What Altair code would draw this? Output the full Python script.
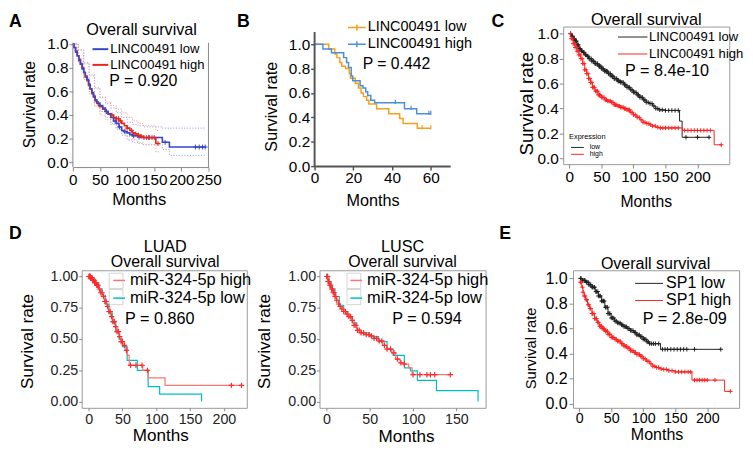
import altair as alt
import pandas as pd

FONT = "Liberation Sans"

# ---------------- Panel A (GEPIA) ----------------
A_groups = ["LINC00491 low", "LINC00491 high"]
A_low_t = [0,2,5,8,11,14,17,20,23,26,29,32,35,38,41,44,47,50,55,60,65,70,75,80,85,90,95,100,105,110,120,130,165,178,245]
A_low_s = [1.0,0.97,0.93,0.9,0.86,0.83,0.79,0.76,0.73,0.70,0.66,0.62,0.59,0.56,0.53,0.51,0.50,0.48,0.46,0.43,0.41,0.38,0.35,0.33,0.30,0.27,0.26,0.25,0.235,0.225,0.215,0.21,0.17,0.13,0.13]
A_high_t = [0,2,5,8,11,14,17,20,23,26,29,32,35,38,41,44,47,50,55,60,65,70,75,80,85,90,95,100,105,110,115,120,125,130,153,160]
A_high_s = [1.0,0.97,0.94,0.90,0.87,0.83,0.80,0.76,0.72,0.69,0.65,0.62,0.58,0.55,0.52,0.50,0.48,0.47,0.45,0.43,0.41,0.40,0.38,0.37,0.35,0.33,0.31,0.29,0.27,0.25,0.24,0.23,0.22,0.21,0.16,0.16]
A_ci_low_t = [0,10,20,30,40,50,60,70,80,90,100,110,120,130,165,178,245]
A_low_up = [1.0,0.95,0.84,0.74,0.63,0.55,0.50,0.46,0.42,0.38,0.34,0.32,0.31,0.30,0.29,0.29,0.29]
A_low_lo = [1.0,0.85,0.72,0.60,0.50,0.43,0.38,0.33,0.28,0.23,0.19,0.17,0.16,0.15,0.11,0.06,0.06]
A_ci_high_t = [0,10,20,30,40,50,60,70,80,90,100,110,120,130,153,160]
A_high_up = [1.0,0.95,0.84,0.73,0.62,0.55,0.51,0.48,0.45,0.42,0.38,0.35,0.33,0.31,0.27,0.27]
A_high_lo = [1.0,0.84,0.70,0.58,0.47,0.40,0.36,0.32,0.29,0.26,0.22,0.19,0.17,0.15,0.09,0.09]
A_low_cens = [62,78,86,96,112,122,140,170,226,233,239,244]
A_high_cens = [72,80,84,88,100,108,116,121,126,131,136,141,146,150,157]

# ---------------- Panel B (GraphPad) ----------------
B_groups = ["LINC00491 low", "LINC00491 high"]
B_low_t = [0,7.3,10.4,11.5,13,14,16,17.9,18.5,21,22.6,24,25.2,26.9,28,32,38.3,43.9,45.7,53,60]
B_low_s = [1.0,0.96,0.92,0.89,0.85,0.82,0.80,0.76,0.72,0.68,0.64,0.60,0.57,0.54,0.51,0.47,0.43,0.39,0.35,0.31,0.31]
B_high_t = [0,4.3,8.7,15,16.5,17.5,18.9,19.7,23.5,25,26.4,27.4,29,31,46.4,52.7,60]
B_high_s = [1.0,0.96,0.93,0.89,0.85,0.81,0.74,0.70,0.66,0.64,0.61,0.58,0.54,0.52,0.47,0.43,0.43]
B_low_cens = [55.5, 60]
B_high_cens = [41.7, 49.8, 59, 60]

# ---------------- Panel C (KM plotter) ----------------
C_groups = ["LINC00491 low", "LINC00491 high"]
C_low_t = [0,3,6,9,12,15,18,21,24,27,30,35,40,45,50,55,60,65,70,75,80,85,90,95,100,105,110,115,120,125,130,135,140,150,172,176,219]
C_low_s = [1.0,0.98,0.96,0.94,0.91,0.88,0.86,0.85,0.83,0.82,0.80,0.78,0.76,0.74,0.72,0.70,0.68,0.66,0.64,0.62,0.61,0.59,0.57,0.55,0.53,0.51,0.49,0.47,0.45,0.44,0.42,0.40,0.39,0.385,0.30,0.17,0.17]
C_high_t = [0,3,6,9,12,15,18,21,24,27,30,33,36,40,45,50,55,60,65,70,75,80,85,90,95,100,105,110,115,120,125,130,135,140,177,226,238]
C_high_s = [1.0,0.96,0.92,0.89,0.86,0.83,0.80,0.76,0.71,0.68,0.64,0.61,0.57,0.54,0.51,0.49,0.47,0.46,0.45,0.43,0.42,0.41,0.40,0.39,0.37,0.35,0.33,0.31,0.29,0.28,0.27,0.26,0.25,0.245,0.225,0.11,0.11]
C_low_cens = [2,4,5,7,8,10,11,13,14,16,17,19,20,22,23,25,26,28,29,31,32,34,35,37,38,40,41,43,44,46,47,49,50,52,53,55,56,58,59,61,62,64,65,67,68,70,71,73,74,76,77,79,80,82,84,86,88,90,92,94,96,98,100,102,104,106,108,110,112,114,116,118,120,123,126,129,132,135,138,141,145,150,155,160,165,170,182,200,218]
C_high_cens = [2,3,5,6,8,9,11,12,14,15,17,18,20,21,23,24,26,27,29,30,32,33,35,36,38,39,41,42,44,45,47,48,50,52,54,56,58,60,62,64,66,68,70,72,74,76,78,80,82,84,86,88,90,92,94,96,98,100,103,106,109,112,115,118,121,124,127,130,134,138,142,146,150,155,160,165,170,180,185,190,195,200,205,210,215,220,237]

# ---------------- Panel D (ggplot, LUAD / LUSC) ----------------
D_groups = ["miR-324-5p high", "miR-324-5p low"]
LUAD_high_t = [0,3,6,9,12,15,18,21,24,27,30,33,36,39,42,45,48,51,54,57,60,80,88,113,227]
LUAD_high_s = [1.0,0.99,0.97,0.95,0.93,0.90,0.87,0.84,0.80,0.76,0.72,0.68,0.64,0.60,0.56,0.52,0.48,0.45,0.41,0.37,0.29,0.25,0.19,0.13,0.13]
LUAD_low_t = [0,5,10,15,20,25,30,35,40,45,50,57,72,88,105,167]
LUAD_low_s = [1.0,0.98,0.95,0.90,0.85,0.78,0.71,0.63,0.56,0.50,0.44,0.33,0.25,0.12,0.06,0.0]
LUAD_high_cens = [0.5,1,1.5,2,2.5,3,4,5,6,7,8,9,10,11,12,13,14,16,18,20,22,24,26,28,30,32,34,36,38,40,42,44,46,48,50,53,56,62,70,79,87,211,226]
LUSC_high_t = [0,2,4,6,8,10,12,14,16,18,20,23,26,29,32,35,40,45,50,55,60,65,70,75,80,85,90,95,99,143]
LUSC_high_s = [1.0,0.96,0.93,0.90,0.87,0.84,0.81,0.78,0.76,0.74,0.72,0.70,0.68,0.65,0.61,0.57,0.55,0.535,0.525,0.505,0.485,0.45,0.42,0.39,0.34,0.31,0.30,0.27,0.215,0.215]
LUSC_low_t = [0,3,6,10,15,20,25,30,35,40,50,60,70,77,90,97,105,127,175]
LUSC_low_s = [1.0,0.95,0.90,0.84,0.77,0.72,0.68,0.63,0.57,0.55,0.52,0.48,0.42,0.37,0.27,0.245,0.17,0.087,0.0]
LUSC_high_cens = [0.5,1,1.5,2,2.5,3,4,5,6,7,8,9,10,11,12,14,16,18,20,22,24,26,28,30,32,34,36,38,40,43,46,49,52,55,58,61,64,67,70,74,78,82,86,90,100,108,116,120,125,143]

# ---------------- Panel E (KM plotter, SP1) ----------------
E_groups = ["SP1 low", "SP1 high"]
E_low_t = [0,5,10,15,20,25,30,35,40,45,50,55,60,65,70,75,80,85,90,95,100,105,110,127,222]
E_low_s = [1.0,0.985,0.97,0.95,0.93,0.895,0.86,0.82,0.77,0.72,0.685,0.66,0.645,0.63,0.615,0.60,0.585,0.57,0.55,0.535,0.515,0.495,0.48,0.435,0.435]
E_high_t = [0,2,4,6,8,10,13,16,20,24,28,32,36,40,45,50,55,60,65,70,75,80,85,90,95,100,105,110,115,120,125,130,140,150,176,227,237]
E_high_s = [1.0,0.97,0.93,0.89,0.86,0.83,0.79,0.76,0.72,0.68,0.65,0.62,0.60,0.58,0.555,0.53,0.515,0.50,0.48,0.46,0.445,0.425,0.41,0.395,0.38,0.36,0.34,0.32,0.30,0.29,0.28,0.275,0.265,0.255,0.19,0.10,0.10]
E_low_cens = [2,3,5,6,8,9,11,12,14,15,17,18,20,21,23,24,26,27,29,30,32,33,35,36,38,39,41,42,44,45,47,48,50,52,54,56,58,60,62,64,66,68,70,72,74,76,78,80,82,84,86,88,90,92,94,96,98,100,102,104,106,108,110,113,116,119,124,130,134,138,143,148,153,158,163,168,180,221]
E_high_cens = [2,3,5,6,8,9,11,12,14,15,17,18,20,21,23,24,26,27,29,30,32,33,35,36,38,39,41,42,44,45,47,48,50,52,54,56,58,60,62,64,66,68,70,72,74,76,78,80,82,84,86,88,90,92,94,96,98,100,103,106,109,112,115,118,121,124,128,132,136,140,145,150,155,160,165,170,174,180,184,188,192,196,200,212,236]

ONE = pd.DataFrame({"k": [0]})
PLUS = "M-1,0L1,0M0,-1L0,1"
VTICK = "M0,-1L0,0.4"


def step_at(ts, ss, x):
    y = ss[0]
    for t, s in zip(ts, ss):
        if t <= x:
            y = s
        else:
            break
    return y


def curves_df(items):
    return pd.concat([pd.DataFrame({"t": ts, "s": ss, "g": g, "col": c}) for g, ts, ss, c in items],
                     ignore_index=True)


def censor_df(items):
    rows = []
    for g, ts, ss, cts, col in items:
        for c in cts:
            rows.append({"t": c, "s": step_at(ts, ss, c), "g": g, "col": col})
    return pd.DataFrame(rows)


def text_layer(txt, x, y, size, align="left", baseline="middle", weight="normal", color="black"):
    return alt.Chart(ONE).mark_text(text=txt, font=FONT, fontSize=size, align=align,
                                    baseline=baseline, fontWeight=weight, color=color).encode(
        x=alt.value(x), y=alt.value(y))


def key_boxes(x, ys, h):
    return [alt.Chart(ONE).mark_rect(fill="white", stroke="#d4d4d4", strokeWidth=1).encode(
        x=alt.value(x), x2=alt.value(x + 14), y=alt.value(y0), y2=alt.value(y0 + h)) for y0 in ys]


def km_panel(p):
    st = p["axis"]
    xs = alt.Scale(domain=p["xdom"], nice=False, zero=False)
    ys = alt.Scale(domain=p["ydom"], nice=False, zero=False)
    xax = alt.Axis(values=p["xvals"], format="d", grid=False, title="Months",
                   labelFont=FONT, labelFontSize=st["lx"], labelColor=st.get("lc", "black"),
                   labelPadding=st["xpad"], tickSize=st["tick"], tickColor=st["tc"],
                   tickWidth=st.get("tw", 1), domain=st["xdomline"], domainColor=st.get("dc", "#888"),
                   domainWidth=st.get("dw", 1), labelFlush=False, labelOverlap=False,
                   titleFont=FONT, titleFontSize=st["tx"], titleFontWeight="normal", titleColor="black",
                   titleX=st["txx"], titleY=st["txy"], titleAlign="center", titleBaseline="alphabetic")
    yax = alt.Axis(values=p["yvals"], format=p["yfmt"], grid=False, title="Survival rate",
                   labelFont=FONT, labelFontSize=st["ly"], labelColor=st.get("lc", "black"),
                   labelPadding=st["ypad"], tickSize=st["tick"], tickColor=st["tc"],
                   tickWidth=st.get("tw", 1), domain=False, labelFlush=False, labelOverlap=False,
                   titleFont=FONT, titleFontSize=st["ty"], titleFontWeight="normal", titleColor="black",
                   titleX=st["tyx"], titleY=st["tyy"], titleAngle=270, titleAlign="center",
                   titleBaseline="middle")
    X = alt.X("t:Q", scale=xs, axis=xax)
    Y = alt.Y("s:Q", scale=ys, axis=yax)
    layers = []
    for extra in p.get("under", []):
        layers.append(extra)
    if p.get("ci") is not None:
        layers.append(alt.Chart(p["ci"]).mark_line(interpolate="step-after", strokeWidth=1,
                                                   strokeDash=[1.2, 1.6]).encode(
            x=X, y=Y, color=alt.Color("col:N", scale=None), detail="g:N"))
    lg = p["legend"]
    legend = alt.Legend(orient="none", legendX=lg["x"], legendY=lg["y"], title=None,
                        symbolType=lg.get("type", "stroke"), symbolSize=lg["size"],
                        symbolStrokeWidth=lg["sw"], labelFont=FONT, labelFontSize=lg["fs"],
                        labelColor="black", labelLimit=0, rowPadding=lg["rp"], padding=0,
                        labelOffset=lg.get("lo", 2))
    layers.append(alt.Chart(p["curves"]).mark_line(interpolate="step-after",
                                                   strokeWidth=p["lw"]).encode(
        x=X, y=Y, color=alt.Color("g:N", scale=alt.Scale(domain=p["groups"], range=p["colors"]),
                                  legend=legend)))
    layers.append(alt.Chart(p["cens"]).mark_point(shape=p["cshape"], filled=False, size=p["csize"],
                                                  strokeWidth=p["cw"], opacity=1).encode(
        x=X, y=Y, color=alt.Color("col:N", scale=None)))
    if p.get("rules") is not None:
        layers.append(alt.Chart(p["rules"]).mark_rule().encode(
            x=X, y=Y, x2="t2:Q", y2="s2:Q", color=alt.Color("col:N", scale=None),
            strokeWidth=alt.StrokeWidth("w:Q", scale=None)))
    for t in p["texts"]:
        layers.append(text_layer(**t))
    for extra in p.get("extra", []):
        layers.append(extra)
    props = dict(width=p["w"], height=p["h"])
    if p.get("frame"):
        props["view"] = alt.ViewBackground(stroke=p["frame"], strokeWidth=1)
    return alt.layer(*layers).properties(**props)


def spacer(w):
    return alt.Chart(ONE).mark_point(opacity=0).encode(
        x=alt.value(0), y=alt.value(0)).properties(width=w, height=1)


# ---------- build panels ----------
A_blue, A_red = "#3646c8", "#e8281e"
panel_A = km_panel(dict(
    groups=A_groups, colors=[A_blue, A_red],
    curves=curves_df([(A_groups[1], A_high_t, A_high_s, A_red), (A_groups[0], A_low_t, A_low_s, A_blue)]),
    cens=censor_df([(A_groups[0], A_low_t, A_low_s, A_low_cens, A_blue),
                    (A_groups[1], A_high_t, A_high_s, A_high_cens, A_red)]),
    ci=curves_df([("lu", A_ci_low_t, A_low_up, "#9aa4e8"), ("ll", A_ci_low_t, A_low_lo, "#9aa4e8"),
                  ("hu", A_ci_high_t, A_high_up, "#f3a592"), ("hl", A_ci_high_t, A_high_lo, "#f3a592")]),
    xdom=[0, 250], ydom=[-0.039, 1.147], w=138, h=143,
    xvals=[0, 50, 100, 150, 200, 250], yvals=[0, 0.2, 0.4, 0.6, 0.8, 1.0], yfmt=".1f",
    axis=dict(lx=15.5, ly=15.5, xpad=2, ypad=1, tick=4, tc="#888", xdomline=True, dc="#888",
              tx=16.8, txx=67, txy=38, ty=16, tyx=-44.5, tyy=79),
    legend=dict(x=19, y=14, size=256, sw=2, fs=13.3, rp=-1, lo=1),
    lw=1.6, cshape=PLUS, csize=25, cw=1,
    rules=pd.DataFrame({"t": [0, 250], "s": [-0.039, -0.039], "t2": [0, 250], "s2": [1.01, 1.01],
                        "col": ["#888", "#888"], "w": [1, 1]}),
    texts=[dict(txt="Overall survival", x=70, y=-4.5, size=16.5, align="center", baseline="top"),
           dict(txt="P = 0.920", x=37, y=55, size=16.2),
           dict(txt="A", x=-65, y=-14, size=18, weight="bold", baseline="top")],
))

B_orange, B_blue = "#f5a01a", "#4a8fd8"
panel_B = km_panel(dict(
    groups=B_groups, colors=[B_orange, B_blue],
    curves=curves_df([(B_groups[0], B_low_t, B_low_s, B_orange), (B_groups[1], B_high_t, B_high_s, B_blue)]),
    cens=censor_df([(B_groups[0], B_low_t, B_low_s, B_low_cens, B_orange),
                    (B_groups[1], B_high_t, B_high_s, B_high_cens, B_blue)]),
    xdom=[0, 70], ydom=[0, 1.145], w=138, h=142,
    xvals=[0, 20, 40, 60], yvals=[0, 0.2, 0.4, 0.6, 0.8, 1.0], yfmt=".1f",
    axis=dict(lx=15.6, ly=15.6, xpad=1, ypad=1, tick=4, tc="#555", tw=1.5, xdomline=True, dc="#555", dw=2,
              tx=16.5, txx=59, txy=40, ty=16.5, tyx=-44, tyy=81),
    legend=dict(x=33, y=-9, size=324, sw=1.5, fs=14.7, rp=-1, lo=1, type="M-1,0L1,0M0,-0.35L0,0.35"),
    lw=1.5, cshape=VTICK, csize=36, cw=1.2,
    rules=pd.DataFrame({"t": [0], "s": [0], "t2": [0], "s2": [1.1], "col": ["#555"], "w": [2]}),
    texts=[dict(txt="P = 0.442", x=49, y=38, size=16),
           dict(txt="B", x=-79, y=-14, size=18, weight="bold", baseline="top")],
))

K_black, K_red = "#222222", "#ff2020"
mini_legend = [
    alt.Chart(ONE).mark_rule(color=K_black, strokeWidth=1).encode(x=alt.value(8), x2=alt.value(21), y=alt.value(123)),
    alt.Chart(ONE).mark_rule(color=K_red, strokeWidth=1).encode(x=alt.value(8), x2=alt.value(21), y=alt.value(130)),
]
LONG_STROKE = "M-1,0L4,0"
panel_C = km_panel(dict(
    groups=C_groups, colors=[K_black, K_red],
    curves=curves_df([(C_groups[0], C_low_t, C_low_s, K_black), (C_groups[1], C_high_t, C_high_s, K_red)]),
    cens=censor_df([(C_groups[0], C_low_t, C_low_s, C_low_cens, K_black),
                    (C_groups[1], C_high_t, C_high_s, C_high_cens, K_red)]),
    xdom=[-9.6, 249.6], ydom=[-0.045, 1.057], w=169, h=140,
    xvals=[0, 50, 100, 150, 200], yvals=[0, 0.2, 0.4, 0.6, 0.8, 1.0], yfmt=".1f",
    axis=dict(lx=15.6, ly=15.6, xpad=2, ypad=1, tick=4, tc="#888", xdomline=False,
              tx=16, txx=84, txy=43, ty=19, tyx=-37, tyy=78),
    legend=dict(x=55, y=4, size=144, sw=1, fs=13.3, rp=3.3, lo=19, type=LONG_STROKE),
    lw=1, cshape=PLUS, csize=20, cw=1, frame="#999",
    texts=[dict(txt="Overall survival", x=84.5, y=-14.3, size=16.5, align="center", baseline="top"),
           dict(txt="P = 8.4e-10", x=63, y=45, size=16.5),
           dict(txt="Expression", x=6, y=112, size=7.5),
           dict(txt="low", x=27, y=123, size=7),
           dict(txt="high", x=27, y=130, size=7),
           dict(txt="C", x=-73, y=-14, size=18, weight="bold", baseline="top")],
    extra=mini_legend,
))

D_salmon, D_cyan, D_cens = "#F8766D", "#00BFC4", "#ff2a2a"
D_axis = dict(lx=14.5, ly=14.5, xpad=2, ypad=1, tick=3, tc="#888", xdomline=False, lc="#222",
              tx=17.4, txx=80, txy=33.5, ty=17.4, tyx=-55.5, tyy=72)
panel_LUAD = km_panel(dict(
    groups=D_groups, colors=[D_salmon, D_cyan],
    curves=curves_df([(D_groups[1], LUAD_low_t, LUAD_low_s, D_cyan), (D_groups[0], LUAD_high_t, LUAD_high_s, D_salmon)]),
    cens=censor_df([(D_groups[0], LUAD_high_t, LUAD_high_s, LUAD_high_cens, D_cens)]),
    xdom=[-10.2, 233.8], ydom=[-0.05, 1.05], w=168, h=140,
    xvals=[0, 50, 100, 150, 200], yvals=[0, 0.25, 0.5, 0.75, 1.0], yfmt=".2f",
    axis=D_axis,
    legend=dict(x=29.7, y=2, size=144, sw=1.5, fs=16.7, rp=0, lo=2.7),
    lw=1.2, cshape=PLUS, csize=30, cw=1.2, frame="#999",
    under=key_boxes(28, [3, 19.5], 15.5),
    texts=[dict(txt="LUAD", x=85, y=-19, size=16.5, align="center", baseline="alphabetic"),
           dict(txt="Overall survival", x=85, y=-3.5, size=16.2, align="center", baseline="alphabetic"),
           dict(txt="P = 0.860", x=44, y=50, size=16.5),
           dict(txt="D", x=-74, y=-45.5, size=18, weight="bold", baseline="top")],
))
D_axis2 = dict(D_axis, txx=88, txy=34)
panel_LUSC = km_panel(dict(
    groups=D_groups, colors=[D_salmon, D_cyan],
    curves=curves_df([(D_groups[1], LUSC_low_t, LUSC_low_s, D_cyan), (D_groups[0], LUSC_high_t, LUSC_high_s, D_salmon)]),
    cens=censor_df([(D_groups[0], LUSC_high_t, LUSC_high_s, LUSC_high_cens, D_cens)]),
    xdom=[-7.9, 183.7], ydom=[-0.05, 1.05], w=169, h=140,
    xvals=[0, 50, 100, 150], yvals=[0, 0.25, 0.5, 0.75, 1.0], yfmt=".2f",
    axis=D_axis2,
    legend=dict(x=29, y=2, size=144, sw=1.5, fs=16.7, rp=0, lo=2.7),
    lw=1.2, cshape=PLUS, csize=30, cw=1.2, frame="#999",
    under=key_boxes(28, [3, 19.5], 15.5),
    texts=[dict(txt="LUSC", x=84.5, y=-19, size=16.5, align="center", baseline="alphabetic"),
           dict(txt="Overall survival", x=84.5, y=-3.5, size=16.2, align="center", baseline="alphabetic"),
           dict(txt="P = 0.594", x=74, y=50, size=16.5)],
))

panel_E = km_panel(dict(
    groups=E_groups, colors=[K_black, K_red],
    curves=curves_df([(E_groups[0], E_low_t, E_low_s, K_black), (E_groups[1], E_high_t, E_high_s, K_red)]),
    cens=censor_df([(E_groups[0], E_low_t, E_low_s, E_low_cens, K_black),
                    (E_groups[1], E_high_t, E_high_s, E_high_cens, K_red)]),
    xdom=[-9.6, 249.6], ydom=[-0.031, 1.065], w=169, h=140,
    xvals=[0, 50, 100, 150, 200], yvals=[0, 0.2, 0.4, 0.6, 0.8, 1.0], yfmt=".1f",
    axis=dict(lx=14.5, ly=16.3, xpad=0, ypad=2, tick=4, tc="#888", xdomline=False,
              tx=16.3, txx=85, txy=32, ty=15, tyx=-43.5, tyy=79),
    legend=dict(x=61, y=5.2, size=144, sw=1, fs=16.3, rp=0.4, lo=17.4, type="M-1,0L3.73,0"),
    lw=1, cshape=PLUS, csize=20, cw=1, frame="#999",
    texts=[dict(txt="Overall survival", x=84, y=-1, size=16.3, align="center", baseline="alphabetic"),
           dict(txt="P = 2.8e-09", x=71, y=50, size=16.5),
           dict(txt="E", x=-75, y=-45.5, size=18, weight="bold", baseline="top")],
))


def independent(c):
    return c.resolve_scale(x="independent", y="independent", color="independent").resolve_legend(
        color="independent")


top_row = independent(alt.hconcat(panel_A, spacer(104), panel_B, spacer(111), panel_C,
                                  spacing=2, bounds="flush"))
bottom_row = independent(alt.hconcat(spacer(7), panel_LUAD, spacer(70), panel_LUSC, spacer(85), panel_E,
                                     spacing=2, bounds="flush"))

chart = independent(alt.vconcat(top_row, bottom_row, spacing=248, bounds="flush")).properties(
    padding=0).configure(font=FONT).configure_view(strokeWidth=0)

chart.save("out.html", embed_options={"renderer": "svg", "actions": False})
